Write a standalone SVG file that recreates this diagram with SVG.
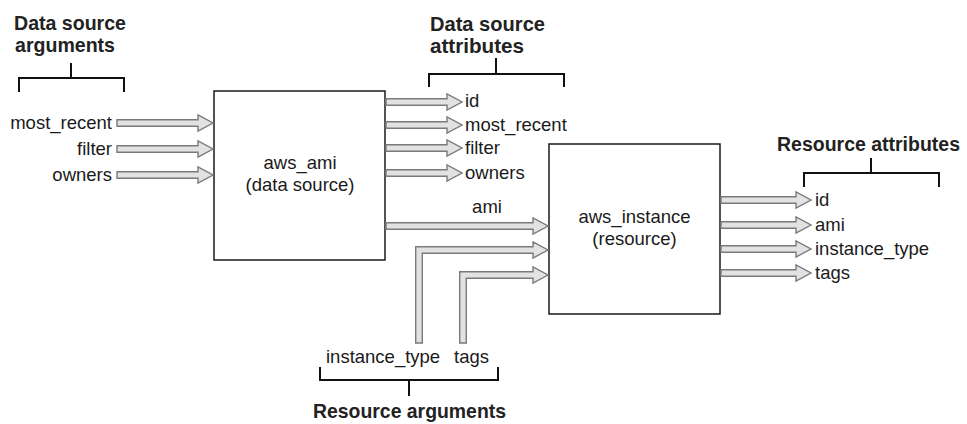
<svg xmlns="http://www.w3.org/2000/svg" width="967" height="424" viewBox="0 0 967 424">
<style>
.bg{fill:#fff}
.box{fill:#fff;stroke:#1a1a1a;stroke-width:1.5}
.arr{fill:#e2e2e2;stroke:#7a7a7a;stroke-width:1.4;stroke-linejoin:miter}
.br{fill:none;stroke:#111;stroke-width:2}
.lbl{font-family:"Liberation Sans",Arial,sans-serif;font-size:18.5px;fill:#1a1a1a}
.c{text-anchor:middle}
.r{text-anchor:end}
.ttl{font-family:"Liberation Sans",Arial,sans-serif;font-size:20.5px;font-weight:bold;fill:#222}
.ttls{font-size:19.5px}
</style>
<rect class="bg" x="0" y="0" width="967" height="424"/>

<g id="title-ds-args">
<text class="ttl" x="14" y="30" textLength="112" lengthAdjust="spacingAndGlyphs">Data source</text>
<text class="ttl" x="15" y="52" textLength="100" lengthAdjust="spacingAndGlyphs">arguments</text>
<path class="br" d="M71,63 V78 M19,92 V78 H124 V92"/>
</g>

<g id="title-ds-attrs">
<text class="ttl" x="430" y="31" textLength="115" lengthAdjust="spacingAndGlyphs">Data source</text>
<text class="ttl" x="430" y="53" textLength="94" lengthAdjust="spacingAndGlyphs">attributes</text>
<path class="br" d="M496,58 V74 M429,87 V74 H564 V87"/>
</g>

<g id="title-res-attrs">
<text class="ttl ttls" x="777" y="151" textLength="183" lengthAdjust="spacingAndGlyphs">Resource attributes</text>
<path class="br" d="M871,158 V173 M804,187 V173 H939 V187"/>
</g>

<g id="title-res-args">
<text class="ttl" x="313" y="418" textLength="193" lengthAdjust="spacingAndGlyphs">Resource arguments</text>
<path class="br" d="M409,380 V396 M320,367 V380 H498 V367"/>
</g>

<g id="aws_ami">
<rect class="box" x="214" y="91" width="171" height="169"/>
<text class="lbl c" x="300" y="169">aws_ami</text>
<text class="lbl c" x="300" y="191">(data source)</text>
</g>

<g id="aws_instance">
<rect class="box" x="549" y="144" width="171" height="170"/>
<text class="lbl c" x="634.5" y="223">aws_instance</text>
<text class="lbl c" x="634.5" y="245">(resource)</text>
</g>

<g id="labels">
<text class="lbl r" x="112" y="129">most_recent</text>
<text class="lbl r" x="112" y="155">filter</text>
<text class="lbl r" x="112" y="181">owners</text>
<text class="lbl" x="465" y="107">id</text>
<text class="lbl" x="465" y="131">most_recent</text>
<text class="lbl" x="465" y="154">filter</text>
<text class="lbl" x="465" y="179">owners</text>
<text class="lbl c" x="487" y="213">ami</text>
<text class="lbl" x="815" y="206">id</text>
<text class="lbl" x="815" y="231">ami</text>
<text class="lbl" x="815" y="255">instance_type</text>
<text class="lbl" x="815" y="279">tags</text>
<text class="lbl" x="326" y="363">instance_type</text>
<text class="lbl" x="454" y="363">tags</text>
</g>

<g id="connectors">
<path class="arr" d="M117,119.7 H198 V115 L213,123 L198,131 V126.3 H117 Z"/>
<path class="arr" d="M117,145.7 H198 V141 L213,149 L198,157 V152.3 H117 Z"/>
<path class="arr" d="M117,171.7 H198 V167 L213,175 L198,183 V178.3 H117 Z"/>
<path class="arr" d="M386,98.7 H447 V94 L462,102 L447,110 V105.3 H386 Z"/>
<path class="arr" d="M386,121.7 H447 V117 L462,125 L447,133 V128.3 H386 Z"/>
<path class="arr" d="M386,144.7 H447 V140 L462,148 L447,156 V151.3 H386 Z"/>
<path class="arr" d="M386,169.7 H447 V165 L462,173 L447,181 V176.3 H386 Z"/>
<path class="arr" d="M386,222.7 H533 V218 L548,226 L533,234 V229.3 H386 Z"/>
<path class="arr" d="M415.7,343 V246.7 H533 V242 L548,250 L533,258 V253.3 H422.3 V343 Z"/>
<path class="arr" d="M459.7,343 V271.7 H533 V267 L548,275 L533,283 V278.3 H466.3 V343 Z"/>
<path class="arr" d="M721,196.7 H796 V192 L811,200 L796,208 V203.3 H721 Z"/>
<path class="arr" d="M721,221.7 H796 V217 L811,225 L796,233 V228.3 H721 Z"/>
<path class="arr" d="M721,245.7 H796 V241 L811,249 L796,257 V252.3 H721 Z"/>
<path class="arr" d="M721,269.7 H796 V265 L811,273 L796,281 V276.3 H721 Z"/>
</g>
</svg>
